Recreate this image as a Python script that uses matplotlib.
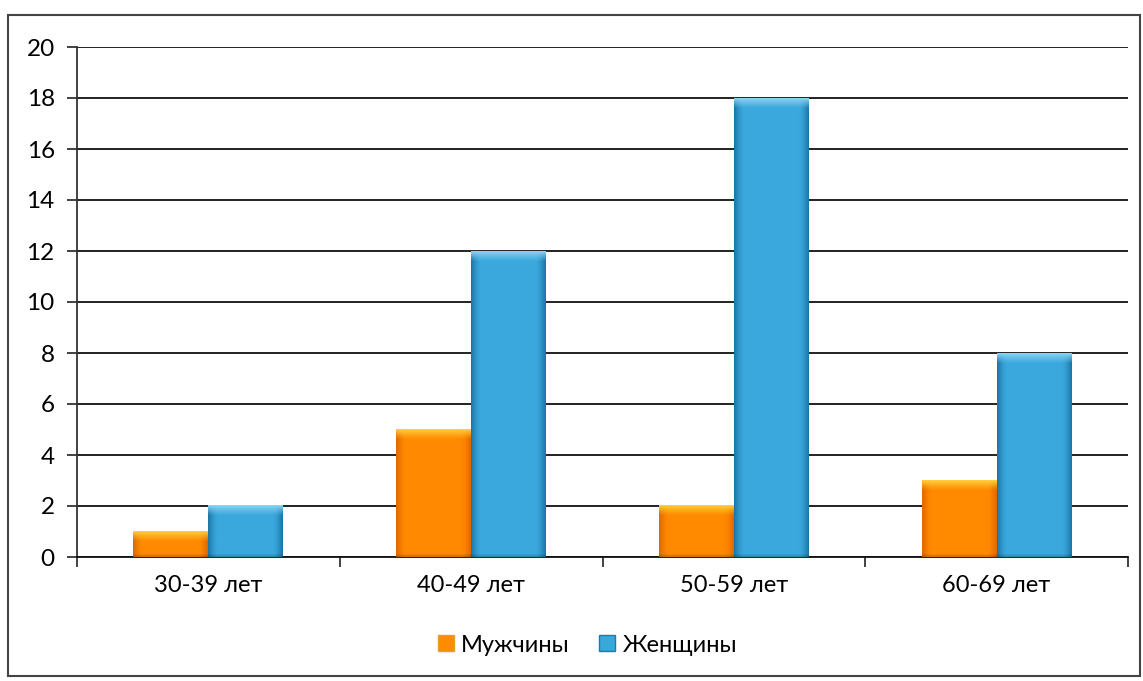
import numpy as np
import matplotlib
matplotlib.use("Agg")
import matplotlib.pyplot as plt
from matplotlib.patches import Rectangle

categories = ["30-39 лет", "40-49 лет", "50-59 лет", "60-69 лет"]
men = [1, 5, 2, 3]
women = [2, 12, 18, 8]
series_names = ["Мужчины", "Женщины"]
y_ticks = [0, 2, 4, 6, 8, 10, 12, 14, 16, 18, 20]

plt.rcParams["font.family"] = ["Lato", "DejaVu Sans"]

FIG_W, FIG_H = 1143, 681
fig = plt.figure(figsize=(FIG_W / 100, FIG_H / 100), dpi=100)
ax = fig.add_axes([77 / FIG_W, 1 - 557 / FIG_H, (1128 - 77) / FIG_W, (557 - 47) / FIG_H])

x = np.arange(len(categories))
w = 0.285
px_per_unit = (557 - 47) / 20.0


def bevel_image(h_px, w_px, base, edge, top):
    """RGB image of a bevelled bar: darker sides, lighter top band."""
    base, edge, top = (np.array(c, float) / 255 for c in (base, edge, top))
    u = np.linspace(-1, 1, w_px)
    side = np.clip((np.abs(u) - 0.75) / 0.25, 0, 1) ** 1.5
    img = base[None, None, :] * (1 - side[None, :, None]) + edge[None, None, :] * side[None, :, None]
    img = np.repeat(img, h_px, axis=0)
    rows = np.arange(h_px)
    t = np.clip(1 - rows / 10.0, 0, 1) ** 1.2
    img = img * (1 - t[:, None, None]) + top[None, None, :] * t[:, None, None]
    b = np.clip((rows - (h_px - 4)) / 4.0, 0, 1)
    img = img * (1 - 0.25 * b[:, None, None])
    return np.clip(img, 0, 1)


def shaded_bars(positions, values, base, edge, top):
    bars = ax.bar(positions, values, width=w, color="none", zorder=3, linewidth=0)
    w_px = int(round(w * (1128 - 77) / 4))
    for b in bars:
        x0, y0 = b.get_x(), b.get_y()
        bw, bh = b.get_width(), b.get_height()
        h_px = max(int(round(bh * px_per_unit)), 2)
        ax.imshow(bevel_image(h_px, w_px, base, edge, top), aspect="auto",
                  extent=[x0, x0 + bw, y0, y0 + bh], zorder=4,
                  interpolation="bilinear")
    return bars


shaded_bars(x - w / 2, men, (255, 138, 0), (222, 105, 0), (255, 205, 60))
shaded_bars(x + w / 2, women, (58, 168, 220), (28, 118, 168), (135, 212, 242))

ax.set_xlim(-0.5, len(categories) - 0.5)
ax.set_ylim(0, 20)
ax.set_yticks(y_ticks)
ax.set_yticklabels([str(v) for v in y_ticks], fontsize=17.5)
ax.yaxis.grid(True, color="#111111", linewidth=1.3, zorder=1)
ax.set_axisbelow(True)

ax.set_xticks(x)
ax.set_xticklabels(categories, fontsize=17)
ax.tick_params(axis="x", length=0, pad=13)
ax.set_xticks(np.arange(len(categories) + 1) - 0.5, minor=True)
ax.tick_params(axis="x", which="minor", length=7, width=1.2, color="#222222")
ax.tick_params(axis="y", length=7, width=1.2, color="#222222", pad=9)

for s in ["top", "right"]:
    ax.spines[s].set_visible(False)
ax.spines["left"].set_color("#333333")
ax.spines["left"].set_linewidth(1.3)
ax.spines["bottom"].set_color("#111111")
ax.spines["bottom"].set_linewidth(1.3)

# legend
handles = [Rectangle((0, 0), 1, 1, facecolor="#ff8c00", edgecolor="#e8a020"),
           Rectangle((0, 0), 1, 1, facecolor="#38a8da", edgecolor="#1f7aa8")]
fig.legend(handles, series_names, loc="center", bbox_to_anchor=(0.514, 1 - 645 / FIG_H),
           ncol=2, frameon=False, fontsize=17, handlelength=0.68, handleheight=0.68,
           handletextpad=0.3, columnspacing=1.25)

# outer chart frame
fig.add_artist(Rectangle((8 / FIG_W, 1 - 676 / FIG_H), (1140 - 8) / FIG_W, (676 - 15) / FIG_H,
                         transform=fig.transFigure, fill=False,
                         edgecolor="#444444", linewidth=1.5))

fig.savefig("out.png", dpi=100, facecolor="white")
